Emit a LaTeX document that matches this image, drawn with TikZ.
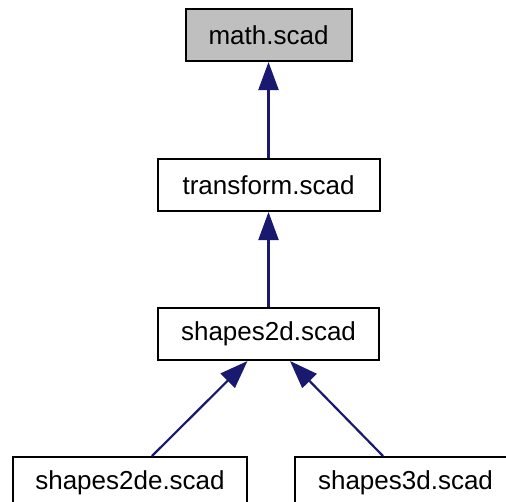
\documentclass[tikz,border=0pt]{standalone}
\usepackage{fontspec}
\setmainfont{Liberation Sans}
\usetikzlibrary{arrows.meta}
\definecolor{DoxNavy}{HTML}{191970}
\definecolor{DoxGray}{HTML}{BFBFBF}

\begin{document}
\begin{tikzpicture}[
  x=1pt,y=-1pt,
  every node/.style={font=\fontsize{26}{30}\selectfont},
  file/.style={draw=black,line width=2pt,fill=white,minimum height=52pt,
    inner sep=0pt},
  current/.style={file,fill=DoxGray},
  dep/.style={{Triangle[length=28pt,width=20pt]}-,line width=2.2pt,
    color=DoxNavy}
]
\useasboundingbox (0,0) rectangle (506,501);

\node[current,minimum width=166pt] (math) at (268.5,35) {math.scad};
\node[file,minimum width=222pt] (transform) at (268.5,185) {transform.scad};
\node[file,minimum width=221pt] (shapes2d) at (268.5,334) {shapes2d.scad};
\node[file,minimum width=234pt] (shapes2de) at (130,483) {shapes2de.scad};
\node[file,minimum width=221pt] (shapes3d) at (405.5,483) {shapes3d.scad};

\draw[dep] (math) -- (transform);
\draw[dep] (transform) -- (shapes2d);
\draw[dep] ([xshift=-21pt]shapes2d.south) -- ([xshift=22pt]shapes2de.north);
\draw[dep] ([xshift=21.5pt]shapes2d.south) -- ([xshift=-22.5pt]shapes3d.north);
\end{tikzpicture}
\end{document}
